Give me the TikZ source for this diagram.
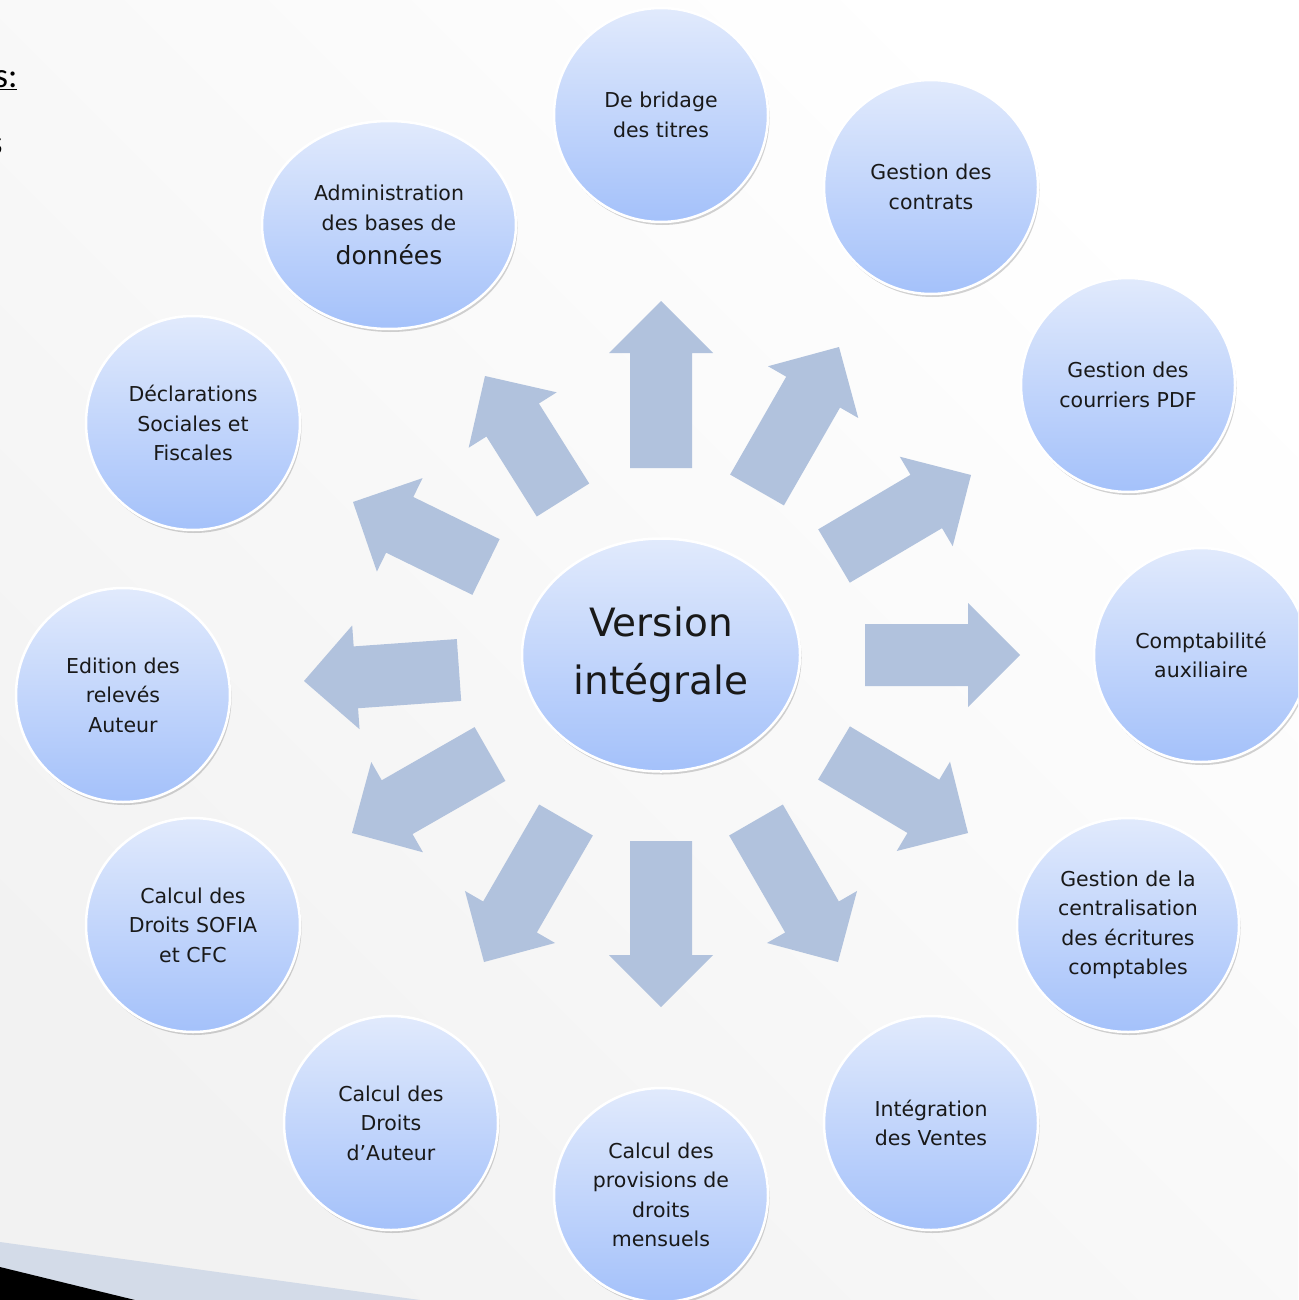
\documentclass[tikz,border=0pt]{standalone}
\usepackage{fontspec}
\setmainfont{DejaVu Sans}
\newfontfamily\slidefont{Carlito}
\usetikzlibrary{calc,positioning,shapes.geometric,shadows}

\definecolor{circtop}{RGB}{225,234,252}
\definecolor{circbot}{RGB}{164,193,250}
\definecolor{arrowblue}{RGB}{177,194,221}
\definecolor{bandgrey}{RGB}{211,219,232}

\tikzset{
    bubble/.style={circle, minimum size=214pt, inner sep=0pt, align=center,
        top color=circtop, bottom color=circbot, draw=white, line width=2.5pt,
        drop shadow={shadow xshift=1.5pt, shadow yshift=-3pt, opacity=.35},
        text=black!90, font=\fontsize{20.5}{29.5}\selectfont},
    arrowfill/.style={fill=arrowblue}
}

% block arrow from tail #1 to tip #2
\newcommand{\blockarrow}[2]{%
    \coordinate (hb) at ($(#2)!52pt!(#1)$);
    \fill[arrowfill] ($(#1)!31pt!90:(#2)$) -- ($(hb)!31pt!-90:(#1)$)
        -- ($(hb)!52pt!-90:(#1)$) -- (#2) -- ($(hb)!52pt!90:(#1)$)
        -- ($(hb)!31pt!90:(#1)$) -- ($(#1)!31pt!-90:(#2)$) -- cycle;}

\begin{document}
\begin{tikzpicture}[x=1pt,y=-1pt]
    \useasboundingbox (0,0) rectangle (1298,1300);
    \clip (0,0) rectangle (1298,1300);
    \shade[top color=white, bottom color=black!5, shading angle=-45] (0,0) rectangle (1298,1300);

    \fill[bandgrey] (0,1242) -- (420,1300) -- (0,1300) -- cycle;
    \fill[black] (0,1267) -- (135,1300) -- (0,1300) -- cycle;

    \node[anchor=base east, font=\slidefont\fontsize{35}{40}\selectfont] (titre) at (21,88) {\underline{s:}};
    \node[anchor=base east, font=\slidefont\fontsize{35}{40}\selectfont] (puce) at (6,155) {s};

    % arrows: tails and tips
    \coordinate (t1) at (661,468);  \coordinate (h1) at (661,301);
    \coordinate (t2) at (757,490);  \coordinate (h2) at (839,347);
    \coordinate (t3) at (834,556);  \coordinate (h3) at (971,475);
    \coordinate (t4) at (865,655);  \coordinate (h4) at (1020,655);
    \coordinate (t5) at (834,753);  \coordinate (h5) at (968,833);
    \coordinate (t6) at (756,820);  \coordinate (h6) at (838,962);
    \coordinate (t7) at (661,841);  \coordinate (h7) at (661,1007);
    \coordinate (t8) at (566,820);  \coordinate (h8) at (484,962);
    \coordinate (t9) at (490,754);  \coordinate (h9) at (352,833);
    \coordinate (t10) at (459,670); \coordinate (h10) at (304,681);
    \coordinate (t11) at (486,567); \coordinate (h11) at (353,502);
    \coordinate (t12) at (563,500); \coordinate (h12) at (485,376);

    \foreach \t/\h in {t1/h1,t2/h2,t3/h3,t4/h4,t5/h5,t6/h6,t7/h7,t8/h8,t9/h9,t10/h10,t11/h11,t12/h12}
        \blockarrow{\t}{\h};

    \node[bubble, ellipse, minimum width=278pt, minimum height=233pt,
        font=\fontsize{39}{58}\selectfont] (version) at (661,655) {Version\\intégrale};

    \node[bubble] (bridage) at (661,115) {De bridage\\des titres};
    \node[bubble] (contrats) at (931,187) {Gestion des\\contrats};
    \node[bubble] (courriers) at (1128,385) {Gestion des\\courriers PDF};
    \node[bubble] (compta) at (1201,655) {Comptabilité\\auxiliaire};
    \node[bubble, ellipse, minimum width=222pt, minimum height=214pt] (centralisation) at (1128,925)
        {Gestion de la\\centralisation\\des écritures\\comptables};
    \node[bubble] (ventes) at (931,1123) {Intégration\\des Ventes};
    \node[bubble] (provisions) at (661,1195) {Calcul des\\provisions de\\droits\\mensuels};
    \node[bubble] (droitsauteur) at (391,1123) {Calcul des\\Droits\\d’Auteur};
    \node[bubble] (sofia) at (193,925) {Calcul des\\Droits SOFIA\\et CFC};
    \node[bubble] (releves) at (123,695) {Edition des\\relevés\\Auteur};
    \node[bubble] (declarations) at (193,423) {Déclarations\\Sociales et\\Fiscales};
    \node[bubble, ellipse, minimum width=254pt, minimum height=208pt] (admin) at (389,225)
        {Administration\\des bases de\\[5pt]{\fontsize{25}{30}\selectfont données}};
\end{tikzpicture}
\end{document}
